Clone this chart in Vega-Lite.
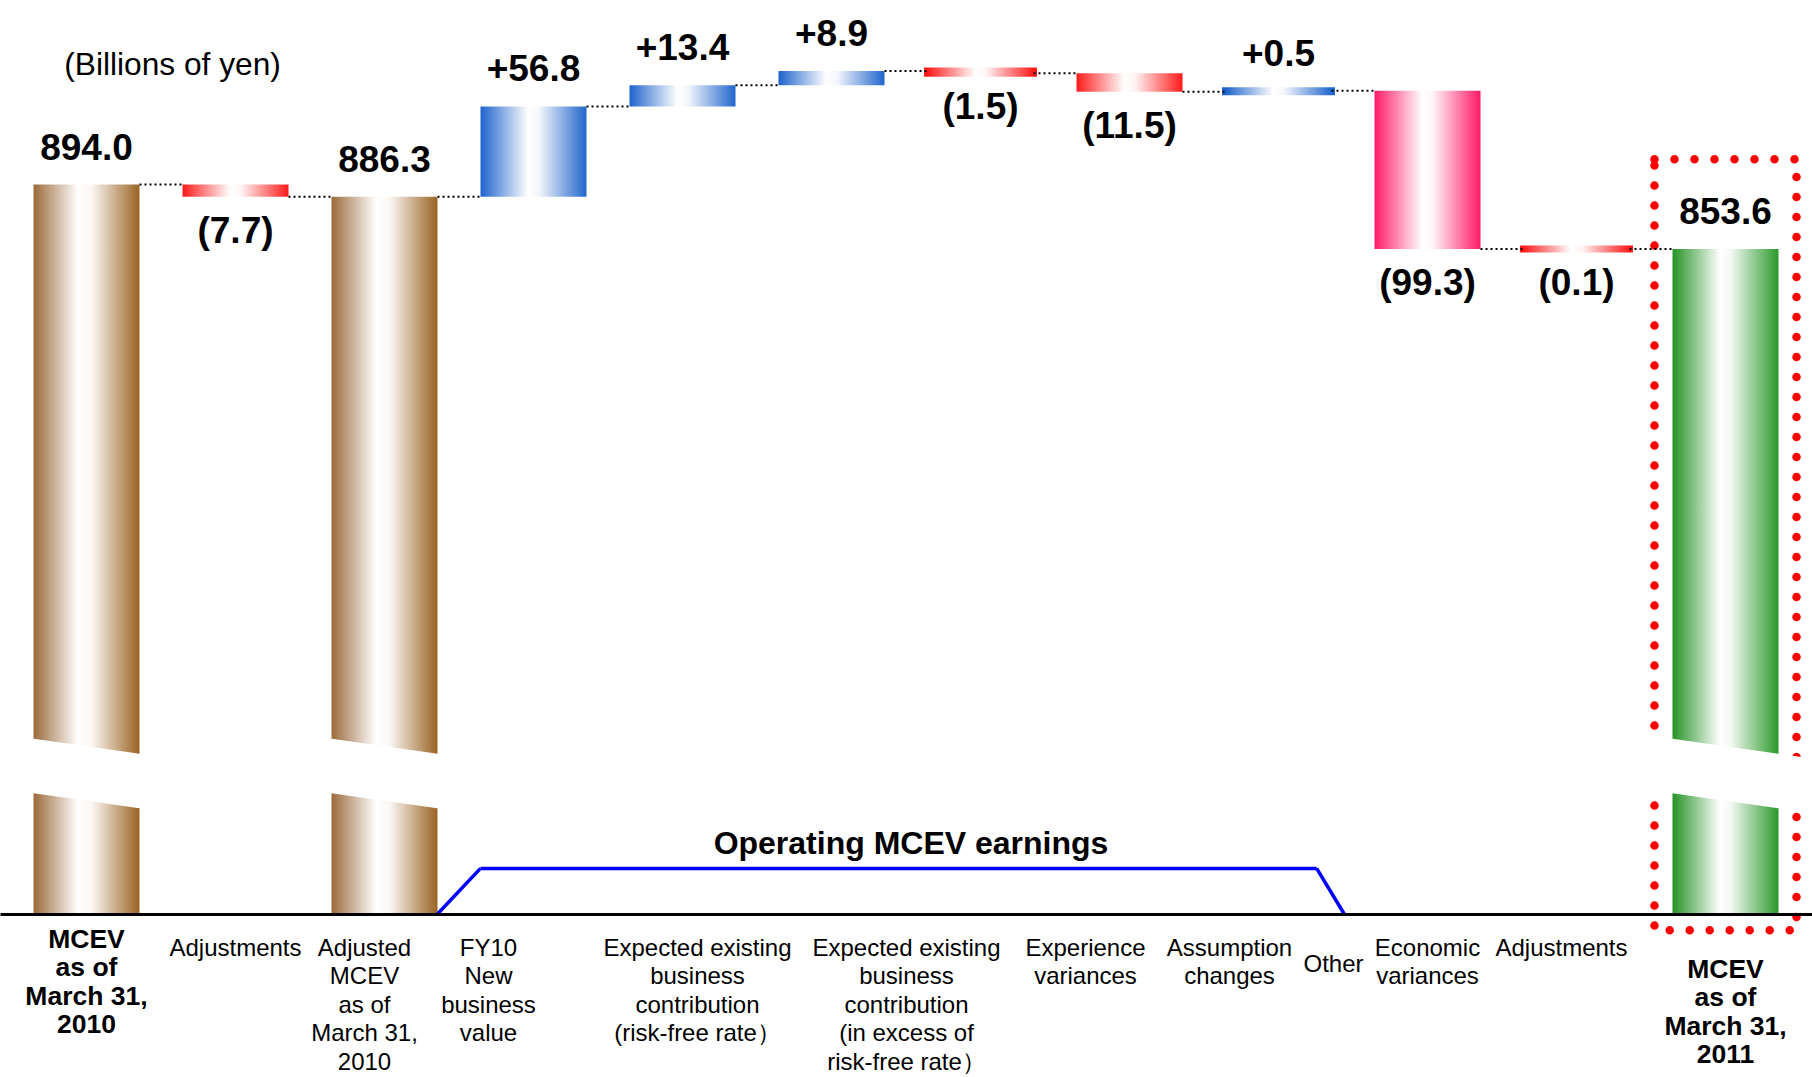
{
  "$schema": "https://vega.github.io/schema/vega-lite/v6.json",
  "width": 1812,
  "height": 914,
  "autosize": {"type": "none"},
  "padding": {"left": 0, "top": 0, "right": 0, "bottom": 163},
  "background": "white",
  "config": {
    "view": {"stroke": null},
    "font": "Liberation Sans",
    "text": {"font": "Liberation Sans", "color": "#000000"}
  },
  "data": {
    "values": [
      {"cat": "MCEV\nas of\nMarch 31,\n2010", "kind": "total", "start": 0, "end": 894.0, "label": "894.0"},
      {"cat": "Adjustments", "kind": "decrease", "start": 894.0, "end": 886.3, "label": "(7.7)"},
      {"cat": "Adjusted\nMCEV\nas of\nMarch 31,\n2010", "kind": "total", "start": 0, "end": 886.3, "label": "886.3"},
      {"cat": "FY10\nNew\nbusiness\nvalue", "kind": "increase", "start": 886.3, "end": 943.1, "label": "+56.8"},
      {"cat": "Expected existing\nbusiness\ncontribution\n(risk-free rate）", "kind": "increase", "start": 943.1, "end": 956.5, "label": "+13.4"},
      {"cat": "Expected existing\nbusiness\ncontribution\n(in excess of\nrisk-free rate）", "kind": "increase", "start": 956.5, "end": 965.4, "label": "+8.9"},
      {"cat": "Experience\nvariances", "kind": "decrease", "start": 965.4, "end": 963.9, "label": "(1.5)"},
      {"cat": "Assumption\nchanges", "kind": "decrease", "start": 963.9, "end": 952.4, "label": "(11.5)"},
      {"cat": "Other", "kind": "increase", "start": 952.4, "end": 952.9, "label": "+0.5"},
      {"cat": "Economic\nvariances", "kind": "economic", "start": 952.9, "end": 853.6, "label": "(99.3)"},
      {"cat": "Adjustments ", "kind": "decrease", "start": 853.6, "end": 853.5, "label": "(0.1)"},
      {"cat": "MCEV\nas of\nMarch 31,\n2011", "kind": "closing", "start": 0, "end": 853.6, "label": "853.6"}
    ]
  },
  "transform": [{"window": [{"op": "lead", "field": "cat", "as": "next"}]}],
  "resolve": {"axis": {"x": "independent"}},
  "encoding": {
    "x": {
      "field": "cat",
      "type": "nominal",
      "sort": null,
      "axis": null,
      "scale": {
        "domain": [
          "MCEV\nas of\nMarch 31,\n2010", "Adjustments", "Adjusted\nMCEV\nas of\nMarch 31,\n2010",
          "FY10\nNew\nbusiness\nvalue", "Expected existing\nbusiness\ncontribution\n(risk-free rate）",
          "Expected existing\nbusiness\ncontribution\n(in excess of\nrisk-free rate）", "Experience\nvariances",
          "Assumption\nchanges", "Other", "Economic\nvariances", "Adjustments ", "MCEV\nas of\nMarch 31,\n2011"
        ],
        "paddingInner": 0.2886,
        "paddingOuter": 0.2248
      }
    }
  },
  "layer": [
    {
      "data": {"values": [{}]},
      "mark": {"type": "rect", "fillOpacity": 0, "stroke": "#ff0000", "strokeWidth": 8.5, "strokeDash": [0, 20], "strokeCap": "round"},
      "encoding": {
        "x": {"datum": "MCEV\nas of\nMarch 31,\n2011", "type": "nominal", "bandPosition": -0.17, "axis": null},
        "x2": {"datum": "MCEV\nas of\nMarch 31,\n2011", "bandPosition": 1.17},
        "y": {"datum": 910, "type": "quantitative", "axis": null, "scale": {"domain": [0, 70, 540, 1010], "range": [914, 800, 748, 0], "zero": false, "nice": false}},
        "y2": {"datum": -10}
      }
    },
    {
      "transform": [{"filter": "datum.kind === 'total'"}],
      "mark": {"type": "bar", "color": {"gradient": "linear", "x1": 0, "y1": 0, "x2": 1, "y2": 0, "stops": [{"offset": 0, "color": "#9b6a3b"}, {"offset": 0.42, "color": "#ffffff"}, {"offset": 0.55, "color": "#fbf7f4"}, {"offset": 1, "color": "#9a6322"}]}},
      "encoding": {
        "x": {
          "field": "cat",
          "type": "nominal",
          "sort": null,
          "scale": {
            "domain": [
              "MCEV\nas of\nMarch 31,\n2010", "Adjustments", "Adjusted\nMCEV\nas of\nMarch 31,\n2010",
              "FY10\nNew\nbusiness\nvalue", "Expected existing\nbusiness\ncontribution\n(risk-free rate）",
              "Expected existing\nbusiness\ncontribution\n(in excess of\nrisk-free rate）", "Experience\nvariances",
              "Assumption\nchanges", "Other", "Economic\nvariances", "Adjustments ", "MCEV\nas of\nMarch 31,\n2011"
            ],
            "paddingInner": 0.2886,
            "paddingOuter": 0.2248
          },
          "axis": {
            "title": null,
            "domain": true,
            "domainColor": "#000000",
            "domainWidth": 3,
            "ticks": false,
            "grid": false,
            "zindex": 1,
            "labelAngle": 0,
            "labelLimit": 0,
            "labelOverlap": false,
            "labelBound": false,
            "labelFlush": false,
            "labelFont": "Liberation Sans",
            "labelColor": "#000000",
            "labelLineHeight": 28.5,
            "labelBaseline": "top",
            "labelExpr": "split(datum.label, '\\n')",
            "labelFontSize": {
              "condition": {"test": "indexof(datum.value, 'MCEV') === 0", "value": 26.5},
              "value": 24
            },
            "labelFontWeight": {
              "condition": {"test": "indexof(datum.value, 'MCEV') === 0", "value": "bold"},
              "value": "normal"
            },
            "labelPadding": {
              "condition": [
                {"test": "indexof(datum.value, '2011') >= 0", "value": 42},
                {"test": "datum.value === 'Other'", "value": 38},
                {"test": "indexof(datum.value, 'MCEV') === 0", "value": 12}
              ],
              "value": 22
            },
            "labelOffset": {
              "condition": [
                {"test": "indexof(datum.value, 'Adjusted') === 0", "value": -20},
                {"test": "indexof(datum.value, 'FY10') === 0", "value": -45},
                {"test": "indexof(datum.value, '(risk-free') >= 0", "value": 15},
                {"test": "indexof(datum.value, 'in excess') >= 0", "value": 75},
                {"test": "indexof(datum.value, 'Experience') === 0", "value": 105},
                {"test": "indexof(datum.value, 'Assumption') === 0", "value": 100},
                {"test": "datum.value === 'Other'", "value": 55},
                {"test": "datum.value === 'Adjustments '", "value": -15}
              ],
              "value": 0
            }
          }
        },
        "y": {"field": "end", "type": "quantitative", "axis": null, "scale": {"domain": [0, 70, 540, 1010], "range": [914, 800, 748, 0], "zero": false, "nice": false}},
        "y2": {"datum": 0}
      }
    },
    {
      "transform": [{"filter": "datum.kind === 'closing'"}],
      "mark": {"type": "bar", "color": {"gradient": "linear", "x1": 0, "y1": 0, "x2": 1, "y2": 0, "stops": [{"offset": 0, "color": "#259325"}, {"offset": 0.45, "color": "#ffffff"}, {"offset": 0.55, "color": "#f4f9f4"}, {"offset": 1, "color": "#2a9a2a"}]}},
      "encoding": {
        "y": {"field": "end", "type": "quantitative", "axis": null, "scale": {"domain": [0, 70, 540, 1010], "range": [914, 800, 748, 0], "zero": false, "nice": false}},
        "y2": {"datum": 0}
      }
    },
    {
      "transform": [{"filter": "datum.kind === 'total' || datum.kind === 'closing'"}],
      "mark": {"type": "rule", "color": "#ffffff", "strokeWidth": 54, "strokeCap": "butt"},
      "encoding": {
        "x": {"field": "cat", "type": "nominal", "bandPosition": -0.3, "axis": null},
        "x2": {"field": "cat", "bandPosition": 1.3},
        "y": {"datum": 418, "type": "quantitative", "axis": null, "scale": {"domain": [0, 70, 540, 1010], "range": [914, 800, 748, 0], "zero": false, "nice": false}},
        "y2": {"datum": 201}
      }
    },
    {
      "transform": [{"filter": "datum.kind === 'increase'"}],
      "mark": {"type": "bar", "color": {"gradient": "linear", "x1": 0, "y1": 0, "x2": 1, "y2": 0, "stops": [{"offset": 0, "color": "#1e63cc"}, {"offset": 0.45, "color": "#ffffff"}, {"offset": 0.55, "color": "#f5f7fc"}, {"offset": 1, "color": "#2066cc"}]}, "stroke": {"gradient": "linear", "x1": 0, "y1": 0, "x2": 1, "y2": 0, "stops": [{"offset": 0, "color": "#1e63cc"}, {"offset": 0.45, "color": "#ffffff"}, {"offset": 0.55, "color": "#f5f7fc"}, {"offset": 1, "color": "#2066cc"}]}},
      "encoding": {
        "y": {"field": "start", "type": "quantitative", "axis": null, "scale": {"domain": [0, 70, 540, 1010], "range": [914, 800, 748, 0], "zero": false, "nice": false}},
        "y2": {"field": "end"},
        "strokeWidth": {"condition": {"test": "abs(datum.end - datum.start) < 2", "value": 7}, "value": 0}
      }
    },
    {
      "transform": [{"filter": "datum.kind === 'decrease'"}],
      "mark": {"type": "bar", "color": {"gradient": "linear", "x1": 0, "y1": 0, "x2": 1, "y2": 0, "stops": [{"offset": 0, "color": "#ff1a1a"}, {"offset": 0.45, "color": "#ffffff"}, {"offset": 0.55, "color": "#fff4f4"}, {"offset": 1, "color": "#ff1a1a"}]}, "stroke": {"gradient": "linear", "x1": 0, "y1": 0, "x2": 1, "y2": 0, "stops": [{"offset": 0, "color": "#ff1a1a"}, {"offset": 0.45, "color": "#ffffff"}, {"offset": 0.55, "color": "#fff4f4"}, {"offset": 1, "color": "#ff1a1a"}]}},
      "encoding": {
        "y": {"field": "start", "type": "quantitative", "axis": null, "scale": {"domain": [0, 70, 540, 1010], "range": [914, 800, 748, 0], "zero": false, "nice": false}},
        "y2": {"field": "end"},
        "strokeWidth": {"condition": {"test": "abs(datum.end - datum.start) < 2", "value": 7}, "value": 0}
      }
    },
    {
      "transform": [{"filter": "datum.kind === 'economic'"}],
      "mark": {"type": "bar", "color": {"gradient": "linear", "x1": 0, "y1": 0, "x2": 1, "y2": 0, "stops": [{"offset": 0, "color": "#ff1a66"}, {"offset": 0.45, "color": "#ffffff"}, {"offset": 0.55, "color": "#fff4f7"}, {"offset": 1, "color": "#ff1a66"}]}},
      "encoding": {
        "y": {"field": "start", "type": "quantitative", "axis": null, "scale": {"domain": [0, 70, 540, 1010], "range": [914, 800, 748, 0], "zero": false, "nice": false}},
        "y2": {"field": "end"}
      }
    },
    {
      "transform": [{"filter": "datum.next != null"}],
      "mark": {"type": "rule", "color": "#000000", "strokeWidth": 2, "strokeDash": [2, 3]},
      "encoding": {
        "x": {"field": "cat", "type": "nominal", "bandPosition": 1, "axis": null},
        "x2": {"field": "next", "bandPosition": 0},
        "y": {"field": "end", "type": "quantitative", "axis": null, "scale": {"domain": [0, 70, 540, 1010], "range": [914, 800, 748, 0], "zero": false, "nice": false}}
      }
    },
    {
      "transform": [{"filter": "datum.kind === 'total' || datum.kind === 'closing' || datum.kind === 'increase'"}],
      "mark": {"type": "text", "baseline": "alphabetic", "dy": -25, "fontSize": 37, "fontWeight": "bold"},
      "encoding": {
        "y": {"field": "end", "type": "quantitative", "axis": null, "scale": {"domain": [0, 70, 540, 1010], "range": [914, 800, 748, 0], "zero": false, "nice": false}},
        "text": {"field": "label"}
      }
    },
    {
      "transform": [{"filter": "datum.kind === 'decrease' || datum.kind === 'economic'"}],
      "mark": {"type": "text", "baseline": "alphabetic", "dy": 46, "fontSize": 37, "fontWeight": "bold"},
      "encoding": {
        "y": {"field": "end", "type": "quantitative", "axis": null, "scale": {"domain": [0, 70, 540, 1010], "range": [914, 800, 748, 0], "zero": false, "nice": false}},
        "text": {"field": "label"}
      }
    },
    {
      "data": {"values": [{}]},
      "mark": {"type": "rule", "color": "#0000ff", "strokeWidth": 3.5},
      "encoding": {
        "x": {"datum": "Adjusted\nMCEV\nas of\nMarch 31,\n2010", "type": "nominal", "bandPosition": 1, "axis": null},
        "x2": {"datum": "FY10\nNew\nbusiness\nvalue", "bandPosition": 0},
        "y": {"datum": 0, "type": "quantitative", "axis": null, "scale": {"domain": [0, 70, 540, 1010], "range": [914, 800, 748, 0], "zero": false, "nice": false}},
        "y2": {"datum": 28}
      }
    },
    {
      "data": {"values": [{}]},
      "mark": {"type": "rule", "color": "#0000ff", "strokeWidth": 3.5},
      "encoding": {
        "x": {"datum": "FY10\nNew\nbusiness\nvalue", "type": "nominal", "bandPosition": 0, "axis": null},
        "x2": {"datum": "Other", "bandPosition": 0.86},
        "y": {"datum": 28, "type": "quantitative", "axis": null, "scale": {"domain": [0, 70, 540, 1010], "range": [914, 800, 748, 0], "zero": false, "nice": false}}
      }
    },
    {
      "data": {"values": [{}]},
      "mark": {"type": "rule", "color": "#0000ff", "strokeWidth": 3.5},
      "encoding": {
        "x": {"datum": "Other", "type": "nominal", "bandPosition": 0.86, "axis": null},
        "x2": {"datum": "Other", "bandPosition": 1.12},
        "y": {"datum": 28, "type": "quantitative", "axis": null, "scale": {"domain": [0, 70, 540, 1010], "range": [914, 800, 748, 0], "zero": false, "nice": false}},
        "y2": {"datum": 0}
      }
    },
    {
      "data": {"values": [{"text": "Operating MCEV earnings"}]},
      "mark": {"type": "text", "baseline": "alphabetic", "align": "center", "dy": -14, "fontSize": 32, "fontWeight": "bold"},
      "encoding": {
        "x": {"datum": "Expected existing\nbusiness\ncontribution\n(in excess of\nrisk-free rate）", "type": "nominal", "bandPosition": 1.25, "axis": null},
        "y": {"datum": 28, "type": "quantitative", "axis": null, "scale": {"domain": [0, 70, 540, 1010], "range": [914, 800, 748, 0], "zero": false, "nice": false}},
        "text": {"field": "text"}
      }
    },
    {
      "data": {"values": [{"text": "(Billions of yen)"}]},
      "mark": {"type": "text", "baseline": "middle", "align": "left", "fontSize": 31.7},
      "encoding": {
        "x": {"datum": "MCEV\nas of\nMarch 31,\n2010", "type": "nominal", "bandPosition": 0.29, "axis": null},
        "y": {"datum": 969, "type": "quantitative", "axis": null, "scale": {"domain": [0, 70, 540, 1010], "range": [914, 800, 748, 0], "zero": false, "nice": false}},
        "text": {"field": "text"}
      }
    }
  ]
}
